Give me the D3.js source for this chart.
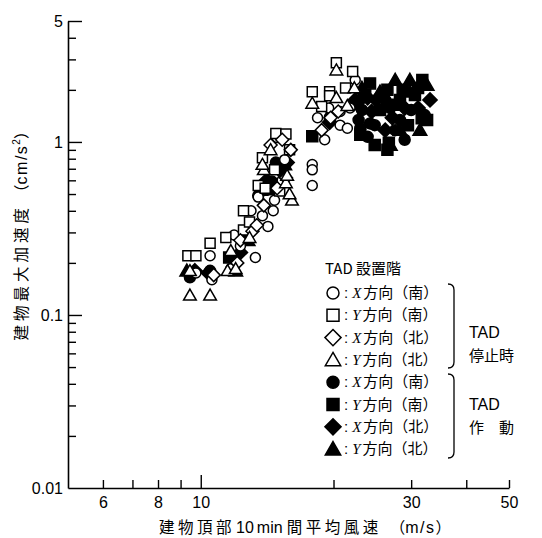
<!DOCTYPE html>
<html><head><meta charset="utf-8">
<script src="https://cdn.jsdelivr.net/npm/d3@7"></script>
<style>body{margin:0;background:#fff}svg{display:block}</style>
</head><body>
<svg id="c" width="542" height="538"></svg>
<script>
// ---- data (wind speed m/s, peak acceleration cm/s^2) ----
const xTickValues = [6,7,8,9,10,20,30,40,50];
const xTickLabels = [6,8,10,30,50];
const yMajor = [0.01,0.1,1,5];
const yMinor = [0.02,0.03,0.04,0.05,0.06,0.07,0.08,0.09,0.2,0.3,0.4,0.5,0.6,0.7,0.8,0.9,2,3,4];

// TAD stopped (open markers)
const openCircleXS = [[9.75,0.175],[10.5,0.22],[10.6,0.16],[11.7,0.185],[11.9,0.29],[12.3,0.25],[13.3,0.215],[14.2,0.325],[13.8,0.375],[13.0,0.40],[14.6,0.40],[13.5,0.48],[14.7,0.46],[15.3,0.60],[15.5,0.79],[14.9,1.06],[17.9,0.74],[17.9,0.69],[17.9,0.56],[19.1,1.03],[20.7,1.25],[21.5,1.2],[20.7,1.5],[22.4,2.28],[19.5,1.57],[21.8,1.57],[18.4,1.38]];
const openSquareYS = [[9.35,0.22],[9.75,0.22],[10.5,0.26],[11.4,0.28],[12.5,0.31],[12.9,0.345],[13.5,0.56],[13.8,0.81],[14.8,1.12],[15.6,1.11],[14.7,0.69],[15.9,0.9],[14.0,0.54],[17.9,1.95],[19.6,1.95],[19.6,1.85],[21.3,2.05],[20.3,2.87],[22.1,2.55],[18.8,1.6],[12.5,0.40],[15.1,0.52]];
const openDiamondXN = [[12.1,0.20],[12.3,0.27],[13.1,0.305],[13.9,0.43],[14.9,0.54],[15.6,0.62],[16.0,0.9],[15.3,1.03],[14.4,0.96],[20.5,1.5],[19.7,1.38],[10.7,0.17],[13.4,0.33],[18.8,1.17]];
const openTriangleYN = [[9.45,0.13],[10.5,0.13],[9.45,0.18],[11.5,0.18],[12.0,0.185],[11.7,0.235],[12.9,0.28],[13.9,0.69],[14.4,0.9],[16.1,0.46],[15.9,0.5],[15.6,0.58],[13.8,0.74],[20.3,2.6],[22.3,2.05],[17.9,1.67],[20.3,1.8],[21.5,1.62],[15.7,0.64]];
// TAD operating (filled markers)
const fillCircleXS = [[9.45,0.165],[10.5,0.18],[11.9,0.205],[12.6,0.285],[13.5,0.49],[14.5,0.59],[15.3,0.67],[14.8,0.76],[22.8,1.34],[23.9,1.07],[23.2,1.53],[24.8,1.25],[28.3,1.34],[30.0,1.53],[32.2,1.43],[26.2,1.75],[27.6,1.17],[29.0,1.03],[19.6,1.38],[22.7,1.64],[23.0,1.2],[24.2,1.28],[26.9,1.57]];
const fillSquareYS = [[11.6,0.215],[13.8,0.53],[15.1,0.71],[17.9,1.08],[26.7,0.99],[24.2,2.18],[31.8,2.28],[25.5,1.53],[30.6,1.87],[28.3,1.75],[32.6,1.34],[23.6,1.87],[27.6,1.64],[29.5,1.25],[24.8,0.96],[23.0,1.10],[31.1,2.05],[26.5,2.0],[26.5,0.90],[28.7,2.0],[31.7,1.37]];
const fillDiamondXN = [[9.7,0.18],[10.4,0.175],[12.3,0.23],[14.1,0.60],[15.7,0.76],[19.6,1.3],[22.4,1.75],[24.4,1.5],[27.2,1.38],[29.0,1.57],[33.1,1.75],[26.2,1.17],[23.9,1.8],[31.1,1.57],[23.0,1.75],[25.0,1.75]];
const fillTriangleYN = [[9.3,0.18],[12.0,0.18],[12.8,0.27],[14.4,0.53],[15.5,0.74],[27.6,2.28],[25.5,1.95],[29.8,1.95],[32.6,2.13],[28.3,1.17],[23.2,2.05],[31.4,1.17],[26.9,0.96],[29.8,2.28]];

const legendLabels = [
  ["X","方向（南）"],["Y","方向（南）"],["X","方向（北）"],["Y","方向（北）"],
  ["X","方向（南）"],["Y","方向（南）"],["X","方向（北）"],["Y","方向（北）"]];

// ---- drawing ----
const svg = d3.select("#c");
const x = d3.scaleLog().domain([5,50]).range([68,509]);
const y = d3.scaleLog().domain([0.01,5]).range([488,21]);
const font = "'Liberation Sans', Arial, sans-serif";
const cjk = "'Noto Sans CJK JP', sans-serif";

function shape(type, s) {
  const p = d3.path();
  if (type === "circle") { p.arc(0,0,s/2,0,2*Math.PI); }
  else if (type === "square") { p.rect(-s/2,-s/2,s,s); }
  else if (type === "diamond") { const h=s*0.62; p.moveTo(0,-h); p.lineTo(h,0); p.lineTo(0,h); p.lineTo(-h,0); p.closePath(); }
  else { const h=s*0.866; p.moveTo(0,-h*0.62); p.lineTo(s*0.55,h*0.48); p.lineTo(-s*0.55,h*0.48); p.closePath(); }
  return p.toString();
}

const series = [
  {data: fillCircleXS, type:"circle", filled:true},
  {data: fillSquareYS, type:"square", filled:true},
  {data: fillDiamondXN, type:"diamond", filled:true},
  {data: fillTriangleYN, type:"triangle", filled:true},
  {data: openCircleXS, type:"circle", filled:false},
  {data: openSquareYS, type:"square", filled:false},
  {data: openDiamondXN, type:"diamond", filled:false},
  {data: openTriangleYN, type:"triangle", filled:false}
];

// axes
const gx = svg.append("g").attr("transform","translate(0,488)");
gx.call(d3.axisBottom(x).tickValues(xTickValues.filter(v=>v!==10)).tickSize(-8).tickSizeOuter(0).tickFormat(""));
gx.append("g").call(d3.axisBottom(x).tickValues([10]).tickSize(-13).tickSizeOuter(0).tickFormat(""));
gx.append("g").call(d3.axisBottom(x).tickValues(xTickLabels).tickSize(0).tickSizeOuter(0).tickPadding(9).tickFormat(d3.format("d")));
const gy = svg.append("g").attr("transform","translate(68,0)");
gy.call(d3.axisLeft(y).tickValues(yMinor).tickSize(-8).tickSizeOuter(0).tickFormat(""));
gy.append("g").call(d3.axisLeft(y).tickValues([0.1,1,5]).tickSize(-14).tickSizeOuter(0).tickFormat(""));
gy.append("g").call(d3.axisLeft(y).tickValues(yMajor).tickSize(0).tickSizeOuter(0).tickPadding(5).tickFormat(d=>String(d)));
svg.selectAll(".domain").attr("stroke","#000").attr("stroke-width",1.6);
svg.selectAll(".tick line").attr("stroke","#000").attr("stroke-width",1.4);
svg.selectAll(".tick text").attr("font-family",font).attr("font-size",16).attr("fill","#000");
gx.selectAll("g > g > .domain").remove();
gy.selectAll("g > g > .domain").remove();

// points
series.forEach(s => {
  const sz = s.type==="triangle" ? 11.5 : (s.type==="diamond" ? 10.5 : 10);
  svg.append("g").selectAll("path").data(s.data).join("path")
    .attr("d", shape(s.type, s.filled ? sz + 1 : sz))
    .attr("transform", d => `translate(${x(d[0])},${y(d[1])})`)
    .attr("fill", s.filled ? "#000" : "#fff")
    .attr("stroke","#000").attr("stroke-width", 1.5);
});

// axis titles
const xt = svg.append("text").attr("x",305).attr("y",533).attr("text-anchor","middle")
  .attr("font-size",15.5).attr("fill","#000");
xt.append("tspan").attr("font-family",cjk).attr("letter-spacing",3.5).text("建物頂部");
xt.append("tspan").attr("font-family",font).attr("font-size",16).attr("dx",1).text("10");
xt.append("tspan").attr("font-family",font).attr("font-size",16).attr("dx",3).text("min");
xt.append("tspan").attr("font-family",cjk).attr("letter-spacing",3.5).attr("dx",4).text("間平均風速");
xt.append("tspan").attr("font-family",cjk).attr("dx",8).text("（");
xt.append("tspan").attr("font-family",font).attr("font-size",16).attr("letter-spacing",1.5).text("m/s");
xt.append("tspan").attr("font-family",cjk).text("）");
const yt = svg.append("text").attr("transform","translate(27,232) rotate(-90)").attr("text-anchor","middle")
  .attr("font-family",cjk).attr("font-size",15.5).attr("fill","#000");
yt.append("tspan").attr("letter-spacing",4).text("建物最大加速度");
yt.append("tspan").attr("dx",4).text("（");
yt.append("tspan").attr("font-family",font).attr("font-size",16).attr("letter-spacing",1.5).text("cm/s");
yt.append("tspan").attr("font-family",font).attr("font-size",10).attr("dy",-7).text("2");
yt.append("tspan").attr("dy",7).text("）");

// legend
const lg = svg.append("g");
lg.append("text").attr("x",325).attr("y",274).attr("font-family",cjk).attr("font-size",15).text("TAD 設置階");
const order = [4,5,6,7,0,1,2,3];
order.forEach((si,i) => {
  const s = series[si];
  const cy = 293 + 22.3*i;
  lg.append("path").attr("d", shape(s.type, s.type==="triangle"?14:(s.type==="diamond"?13:12)))
    .attr("transform",`translate(333,${cy})`)
    .attr("fill", s.filled ? "#000" : "#fff").attr("stroke","#000").attr("stroke-width",1.5);
  const t = lg.append("text").attr("x",344).attr("y",cy+5).attr("font-size",15).attr("fill","#000");
  t.append("tspan").attr("font-family",font).text(":");
  t.append("tspan").attr("dx",4).attr("font-family","'Liberation Serif', serif").attr("font-style","italic").text(legendLabels[i][0]);
  t.append("tspan").attr("dx",2).attr("font-family",cjk).text(legendLabels[i][1]);
});
function bracket(y0,y1){
  const p = d3.path();
  p.moveTo(448,y0); p.quadraticCurveTo(454,y0,454,y0+6); p.lineTo(454,y1-6); p.quadraticCurveTo(454,y1,448,y1);
  lg.append("path").attr("d",p.toString()).attr("fill","none").attr("stroke","#000").attr("stroke-width",1.3);
}
bracket(284,368); bracket(374,458);
lg.append("text").attr("x",469).attr("y",338).attr("font-family",font).attr("font-size",16).text("TAD");
lg.append("text").attr("x",469).attr("y",361).attr("font-family",cjk).attr("font-size",15).text("停止時");
lg.append("text").attr("x",469).attr("y",410).attr("font-family",font).attr("font-size",16).text("TAD");
lg.append("text").attr("x",469).attr("y",433).attr("font-family",cjk).attr("font-size",15).text("作　動");
</script>
</body></html>
